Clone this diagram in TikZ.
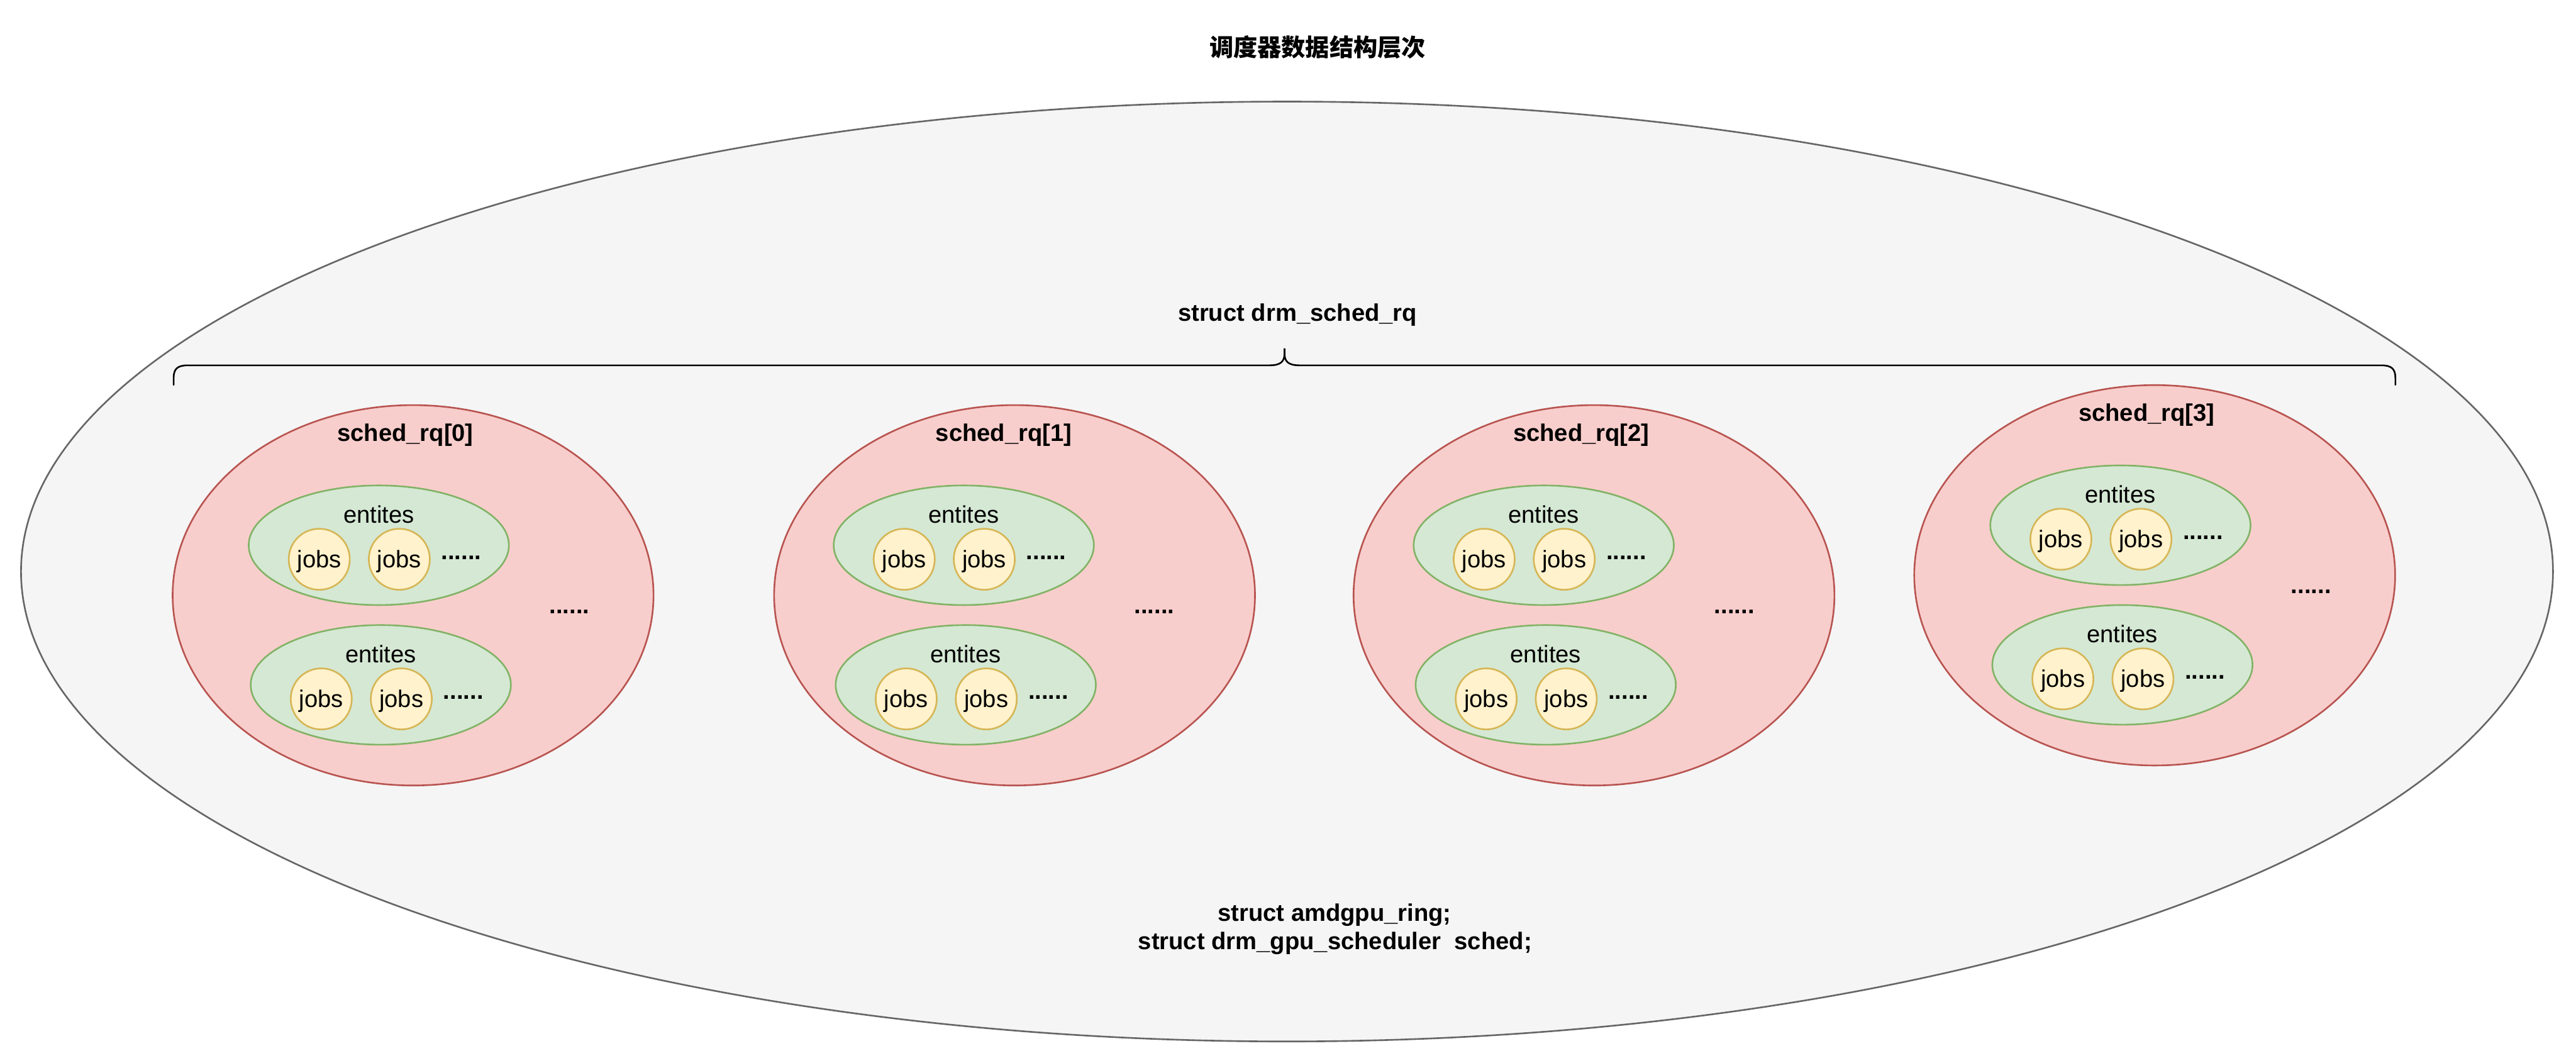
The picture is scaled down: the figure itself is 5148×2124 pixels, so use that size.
\documentclass[tikz,border=0pt]{standalone}
\usepackage{fontspec}
\setmainfont{Liberation Sans}
\newfontfamily\cjk{Noto Sans CJK SC}
\usetikzlibrary{shapes.geometric}
\definecolor{outerfill}{HTML}{F5F5F5}
\definecolor{outerdraw}{HTML}{666666}
\definecolor{redfill}{HTML}{F8CECC}
\definecolor{reddraw}{HTML}{B85450}
\definecolor{greenfill}{HTML}{D5E8D4}
\definecolor{greendraw}{HTML}{82B366}
\definecolor{yelfill}{HTML}{FFF2CC}
\definecolor{yeldraw}{HTML}{D6B656}
\newcommand{\entgroup}[3]{%
  \node[entell] (e#1) at (#2,#3) {};
  \node[txt] (e#1t) at (#2,#3-44.5) {entites};
  \node[jobell] (e#1j1) at (#2-119,#3+28) {};
  \node[txt] (e#1j1t) at (#2-119,#3+44.5) {jobs};
  \node[jobell] (e#1j2) at (#2+41,#3+28) {};
  \node[txt] (e#1j2t) at (#2+41,#3+44.5) {jobs};
  \node[txtb] (e#1d) at (#2+165,#3+28.5) {......};
}
\newcommand{\rqgroup}[7]{%
  \node[rqell] (rq#1) at (#2,#3) {};
  \node[txtb] (rq#1lbl) at (#7,#3-308) {sched\_rq[#6]};
  \entgroup{#1a}{#4-68.5}{#5-100}
  \entgroup{#1b}{#4-64.5}{#5+179}
  \node[txtb] (rq#1dots) at (#4+312.5,#5+36) {......};
}
\begin{document}
\begin{tikzpicture}[x=0.5pt,y=-0.5pt,
  ell/.style={ellipse, inner sep=0pt, line width=1.65pt},
  outerell/.style={ell, draw=outerdraw, fill=outerfill, minimum width=2530pt, minimum height=939pt},
  rqell/.style={ell, draw=reddraw, fill=redfill, minimum width=480.5pt, minimum height=380pt},
  entell/.style={ell, draw=greendraw, fill=greenfill, minimum width=260pt, minimum height=119.5pt},
  jobell/.style={ell, draw=yeldraw, fill=yelfill, minimum width=61pt, minimum height=61pt},
  txt/.style={inner sep=0pt, anchor=base, font=\fontsize{24}{28}\selectfont},
  txtb/.style={txt, font=\fontsize{24}{28}\selectfont\bfseries},
  bracestyle/.style={draw=black, line width=1.65pt, line cap=round}
]
\useasboundingbox (0,0) rectangle (5148,2124);
\fill[white] (0,0) rectangle (5148,2124);

\node[txt, font=\cjk\fontsize{24}{28}\selectfont\bfseries] (title) at (2633,113) {调度器数据结构层次};

\node[outerell] (outer) at (2572,1142) {};

\node[txtb] (rqtitle) at (2593,642) {struct drm\_sched\_rq};

\path[bracestyle] (347,769) -- (347,755) .. controls (347,737) and (355,730) .. (375,730)
  -- (2537,730) .. controls (2560,730) and (2567,722) .. (2567,706) -- (2567,696)
  -- (2567,706) .. controls (2567,722) and (2574,730) .. (2597,730)
  -- (4759,730) .. controls (4779,730) and (4787,737) .. (4787,755) -- (4787,769);

\rqgroup{0}{825.5}{1189.5}{825.5}{1189.5}{0}{810}
\rqgroup{1}{2027.5}{1189.5}{1994.5}{1189.5}{1}{2006}
\rqgroup{2}{3185.5}{1189.5}{3153.5}{1189.5}{2}{3160}
\rqgroup{3}{4306}{1149.5}{4306}{1149.5}{3}{4290}

\node[txtb] (b1) at (2667,1841) {struct amdgpu\_ring;};
\node[txtb] (b2) at (2668,1897) {struct drm\_gpu\_scheduler\ \ sched;};
\end{tikzpicture}
\end{document}
